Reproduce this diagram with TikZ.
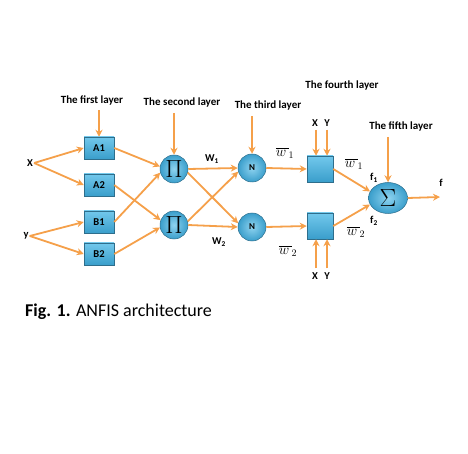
\documentclass[tikz,border=0pt]{standalone}
\usepackage{fontspec}
\setmainfont{Carlito}
\usetikzlibrary{arrows.meta,shapes.geometric}
\definecolor{arr}{HTML}{F5A04A}
\definecolor{bfill1}{HTML}{72C8EC}
\definecolor{bfill2}{HTML}{3A9ECB}
\definecolor{bdraw}{HTML}{2E6E8C}
\tikzset{
  conn/.style={draw=arr, line width=1.8pt, -{Stealth[length=7pt,width=7pt]}},
  boxnode/.style={draw=bdraw, line width=0.5pt, top color=bfill1, bottom color=bfill2, minimum width=30pt, minimum height=22pt, inner sep=0pt, font=\bfseries\fontsize{10.5}{11}\selectfont},
  sqnode/.style={draw=bdraw, line width=0.5pt, top color=bfill1, bottom color=bfill2, minimum width=26pt, minimum height=26pt, inner sep=0pt},
  circnode/.style={circle, draw=bdraw, line width=0.5pt, inner color=bfill1!80!white, outer color=bfill2, minimum size=28pt, inner sep=0pt},
  lbl/.style={font=\bfseries\fontsize{11}{12}\selectfont, inner sep=1pt},
  sm/.style={font=\bfseries\fontsize{10.5}{11}\selectfont, inner sep=1pt},
  wl/.style={font=\fontsize{14}{15}\selectfont, inner sep=1pt},
}
\begin{document}
\begin{tikzpicture}[x=1pt,y=-1pt]
\useasboundingbox (0,0) rectangle (468,454);
% layer labels
\node[lbl] (L1) at (92,100) {The first layer};
\node[lbl] (L2) at (182,103) {The second layer};
\node[lbl] (L3) at (268,106) {The third layer};
\node[lbl] (L4) at (342,86) {The fourth layer};
\node[lbl] (L5) at (401,126) {The fifth layer};
% inputs
\node[sm] (x) at (30,163) {X};
\node[sm] (y) at (26,236) {y};
% layer 1
\node[boxnode] (A1) at (99,148) {A1};
\node[boxnode] (A2) at (99,185) {A2};
\node[boxnode] (B1) at (99,222) {B1};
\node[boxnode] (B2) at (99,254) {B2};
% layer 2
\node[circnode] (P1) at (174,169) {\fontsize{27}{27}\selectfont$\Pi$};
\node[circnode] (P2) at (174,225) {\fontsize{27}{27}\selectfont$\Pi$};
% layer 3
\node[circnode] (N1) at (252,168) {\bfseries\fontsize{9}{10}\selectfont N};
\node[circnode] (N2) at (252,227) {\bfseries\fontsize{9}{10}\selectfont N};
% layer 4
\node[sqnode] (S1) at (320,169) {};
\node[sqnode] (S2) at (320,226) {};
% layer 5
\node[ellipse, draw=bdraw, line width=0.5pt, inner color=bfill1!80!white, outer color=bfill2, minimum width=39pt, minimum height=31pt, inner sep=0pt] (Sg) at (388,198) {\fontsize{24}{24}\selectfont$\Sigma$};
% labels
\node[sm] (W1) at (212,159) {W\textsubscript{1}};
\node[sm] (W2) at (219,242) {W\textsubscript{2}};
\node[wl] (wb1) at (285,153) {$\overline{w\,}_{1}$};
\node[wl] (wb2) at (288,251) {$\overline{w\,}_{2}$};
\node[wl] (wb3) at (354,164) {$\overline{w\,}_{1}$};
\node[wl] (wb4) at (356,232) {$\overline{w\,}_{2}$};
\node[sm] (f1) at (374,178) {f\textsubscript{1}};
\node[sm] (f2) at (374,221) {f\textsubscript{2}};
\node[sm] (f) at (441,183) {f};
\node[sm] (X1) at (315,123) {X};
\node[sm] (Y1) at (327,123) {Y};
\node[sm] (X2) at (315,276) {X};
\node[sm] (Y2) at (327,276) {Y};
\coordinate (fo) at (440,197);
% caption
\node[anchor=west, font=\fontsize{18}{20}\selectfont, inner sep=0pt] (cap) at (25,312) {\textbf{Fig. 1.} ANFIS architecture};
% helper coordinates for the X/Y arrows
\coordinate (s1a) at ([xshift=-4pt]S1.north);
\coordinate (s1b) at ([xshift=7pt]S1.north);
\coordinate (s2a) at ([xshift=-4pt]S2.south);
\coordinate (s2b) at ([xshift=7pt]S2.south);
\coordinate (t1a) at (s1a |- X1.south);
\coordinate (t1b) at (s1b |- Y1.south);
\coordinate (t2a) at (s2a |- X2.north);
\coordinate (t2b) at (s2b |- Y2.north);
% layer arrows
\coordinate (l1s) at (A1.north |- L1.south);
\coordinate (l2s) at (P1.north |- L2.south);
\coordinate (l3s) at (N1.north |- L3.south);
\coordinate (l5s) at (Sg.north |- L5.south);
\draw[conn] ([yshift=-4pt]l1s) -- (A1.north);
\draw[conn] ([yshift=-4pt]l2s) -- (P1.north);
\draw[conn] ([yshift=-4pt]l3s) -- (N1.north);
\draw[conn] ([yshift=-5pt]l5s) -- (Sg.north);
\draw[conn] ([yshift=-2pt]t1a) -- (s1a);
\draw[conn] ([yshift=-2pt]t1b) -- (s1b);
\draw[conn] ([yshift=3pt]t2a) -- (s2a);
\draw[conn] ([yshift=3pt]t2b) -- (s2b);
% input arrows
\draw[conn] (x.east) -- (A1.west);
\draw[conn] (x.east) -- (A2.west);
\draw[conn] (y.east) -- (B1.west);
\draw[conn] (y.east) -- (B2.west);
% layer 1 -> 2
\draw[conn] (A1.east) -- (P1.170);
\draw[conn] (A2.east) -- (P2.160);
\draw[conn] (B1.east) -- (P1.195);
\draw[conn] (B2.east) -- (P2.190);
% layer 2 -> 3
\draw[conn] (P1.east) -- (N1.west);
\draw[conn] (P1.-15) -- (N2.165);
\draw[conn] (P2.15) -- (N1.195);
\draw[conn] (P2.east) -- (N2.west);
% layer 3 -> 4
\draw[conn] (N1.east) -- (S1.west);
\draw[conn] (N2.east) -- (S2.west);
% layer 4 -> 5
\draw[conn] (S1.east) -- (Sg.160);
\draw[conn] (S2.east) -- (Sg.200);
\draw[conn] (Sg.east) -- (fo);
\end{tikzpicture}
\end{document}
